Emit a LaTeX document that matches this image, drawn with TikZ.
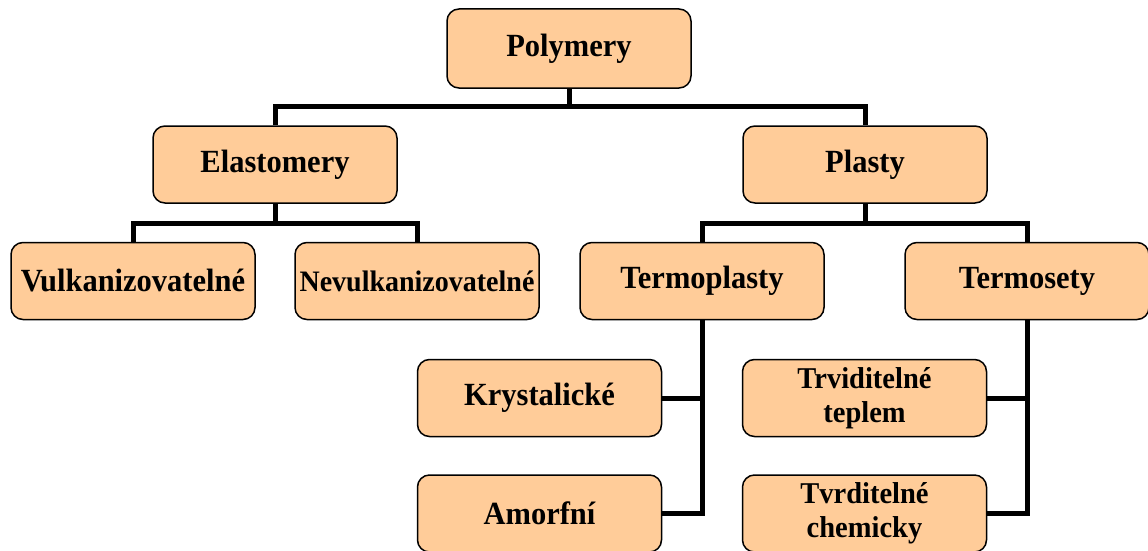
\documentclass[tikz,border=0pt]{standalone}
\usepackage{fontspec}
\setmainfont{Liberation Serif}
\newcommand{\tl}[1]{\scalebox{1}[1.06]{#1}}
\definecolor{boxfill}{RGB}{255,204,153}
\tikzset{
  box/.style={draw=black, line width=1.5pt, fill=boxfill, rounded corners=12pt,
    minimum width=244pt, minimum height=77pt, inner sep=0pt, align=center,
    font=\fontsize{30.5}{34}\selectfont\bfseries, text=black},
  twoline/.style={font=\fontsize{28.5}{33.5}\selectfont\bfseries},
  conn/.style={draw=black, line width=5pt, line join=miter}
}
\begin{document}
\begin{tikzpicture}[x=1pt,y=-1pt]
\useasboundingbox (0,0) rectangle (1148,551);
\fill[white] (0,0) rectangle (1148,551);
\coordinate (c1) at (569,106);
\coordinate (c2) at (275,223);
\coordinate (c3) at (865,223);
\node[box, minimum height=79pt] (poly) at (569,48.5) {\tl{Polymery}};
\node[box] (elast) at (275,164.5) {\tl{Elastomery}};
\node[box] (plast) at (865,164.5) {\tl{Plasty}};
\node[box] (vulk) at (133,281) {\tl{Vulkanizovatelné}};
\node[box, font=\fontsize{28}{32}\selectfont\bfseries] (nevulk) at (417,281) {\tl{Nevulkanizovatelné}};
\node[box] (termop) at (702,281) {\tl{Termoplasty}};
\node[box] (termos) at (1027,281) {\tl{Termosety}};
\node[box] (kryst) at (539.5,398) {\tl{Krystalické}};
\node[box] (amorf) at (539.5,513.5) {\tl{Amorfní}};
\node[box, twoline] (trvid) at (864.5,398) {\tl{Trviditelné}\\\tl{teplem}};
\node[box, twoline] (tvrd) at (864.5,513.5) {\tl{Tvrditelné}\\\tl{chemicky}};
\draw[conn] (poly.south) -- (c1);
\draw[conn] (elast.north) |- (c1) -| (plast.north);
\draw[conn] (elast.south) -- (c2);
\draw[conn] (vulk.north) |- (c2) -| (nevulk.north);
\draw[conn] (plast.south) -- (c3);
\draw[conn] (termop.north) |- (c3) -| (termos.north);
\draw[conn] (termop.south) |- (kryst.east);
\draw[conn] (termop.south) |- (amorf.east);
\draw[conn] (termos.south) |- (trvid.east);
\draw[conn] (termos.south) |- (tvrd.east);
\end{tikzpicture}
\end{document}
